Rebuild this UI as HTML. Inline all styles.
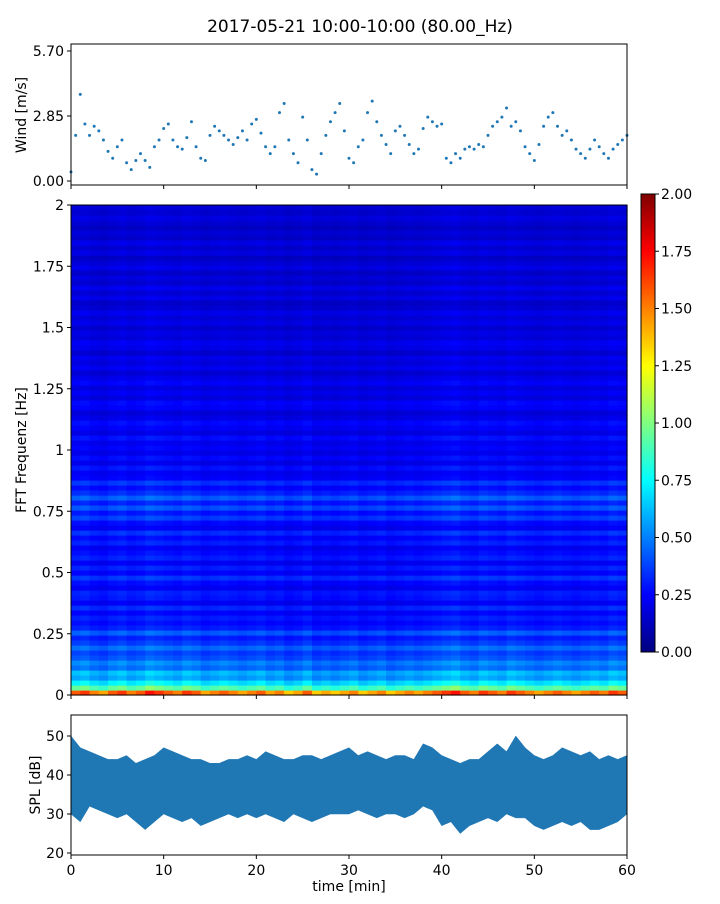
<!DOCTYPE html>
<html><head><meta charset="utf-8"><style>
body{margin:0;background:#fff;font-family:"DejaVu Sans",sans-serif}
svg text{font-family:"DejaVu Sans","Liberation Sans",sans-serif;fill:#000}
</style></head><body>
<svg id="c" width="720" height="900" xmlns="http://www.w3.org/2000/svg">
<text x="360" y="32" font-size="17" text-anchor="middle">2017-05-21 10:00-10:00 (80.00_Hz)</text>
</svg>
<script>
// ---- data ----
const timeTicks=[0,10,20,30,40,50,60];
const windTicks=["0.00","2.85","5.70"];
const wind=[0.4,2.0,3.8,2.5,2.0,2.4,2.2,1.8,1.3,1.0,1.5,1.8,0.8,0.5,0.9,1.2,0.9,0.6,1.5,1.8,2.3,2.5,1.8,1.5,1.4,1.9,2.6,1.5,1.0,0.9,2.0,2.4,2.2,2.0,1.8,1.6,1.9,2.2,1.8,2.5,2.7,2.1,1.5,1.2,1.5,3.0,3.4,1.8,1.2,0.8,2.8,1.8,0.5,0.3,1.2,2.0,2.6,3.0,3.4,2.2,1.0,0.8,1.5,1.8,3.0,3.5,2.6,2.0,1.6,1.2,2.2,2.4,2.0,1.6,1.2,1.4,2.3,2.8,2.6,2.4,2.5,1.0,0.8,1.2,1.0,1.4,1.5,1.4,1.6,1.5,2.0,2.4,2.6,2.8,3.2,2.4,2.6,2.2,1.5,1.2,0.9,1.6,2.4,2.8,3.0,2.4,2.0,2.2,1.8,1.4,1.2,1.0,1.4,1.8,1.5,1.2,1.0,1.4,1.6,1.8,2.0];
const splTicks=[20,30,40,50];
const splHi=[50,47,46,45,44,44,45,43,44,45,47,46,45,44,44,43,43,44,44,45,44,46,45,44,44,45,45,44,45,46,47,45,46,45,44,45,45,44,48,47,45,44,43,44,44,46,48,46,50,47,45,44,45,47,46,45,46,44,45,44,45];
const splLo=[30,28,32,31,30,29,30,28,26,28,30,29,28,29,27,28,29,30,29,30,29,30,29,28,30,29,28,29,30,30,30,31,30,29,30,30,29,30,32,31,27,28,25,27,28,29,28,30,29,29,27,26,27,28,27,28,26,26,27,28,30];
const freqTicks=["0","0.25","0.5","0.75","1","1.25","1.5","1.75","2"];
const cbTicks=["0.00","0.25","0.50","0.75","1.00","1.25","1.50","1.75","2.00"];
const rowLevel=[1.5,0.9,0.7,0.55,0.6,0.45,0.5,0.4,0.36,0.45,0.35,0.3,0.42,0.3,0.26,0.3,0.24,0.32,0.22,0.28,0.3,0.22,0.26,0.34,0.24,0.3,0.22,0.3,0.26,0.22,0.3,0.25,0.33,0.22,0.26,0.36,0.28,0.4,0.3,0.42,0.32,0.26,0.34,0.24,0.22,0.28,0.2,0.26,0.2,0.24,0.21,0.27,0.19,0.23,0.26,0.2,0.17,0.23,0.25,0.18,0.22,0.18,0.24,0.2,0.16,0.22,0.18,0.21,0.15,0.2,0.22,0.17,0.19,0.15,0.2,0.17,0.21,0.16,0.14,0.2,0.16,0.21,0.15,0.18,0.14,0.2,0.17,0.13,0.19,0.15,0.2,0.14,0.17,0.13,0.16,0.19,0.15,0.17];
const colLevel=[1.05,1.1,1.0,0.95,1.05,1.1,1.0,1.05,1.15,1.1,1.05,1.0,1.1,1.05,0.95,1.0,1.05,1.0,0.95,1.0,1.05,0.95,1.0,0.9,0.95,1.05,0.9,0.95,0.9,0.95,1.0,0.9,0.95,1.0,0.9,0.95,1.0,0.95,1.0,1.05,1.1,1.15,1.05,1.0,1.1,1.05,1.0,1.1,1.05,1.0,0.95,1.0,1.05,1.0,0.95,1.0,1.05,1.0,1.1,1.05];
// ---- helpers ----
const S=document.getElementById('c'),NS='http://www.w3.org/2000/svg';
function mk(t,a,p){const e=document.createElementNS(NS,t);for(const k in a)e.setAttribute(k,a[k]);(p||S).appendChild(e);return e;}
const X0=71,X1=627;
const xs=t=>X0+(t/60)*(X1-X0);
function jet(v){v=Math.max(0,Math.min(1,v));const f=(x)=>Math.max(0,Math.min(1,x));
 const r=f(1.5-Math.abs(4*v-3)),g=f(1.5-Math.abs(4*v-2)),b=f(1.5-Math.abs(4*v-1));
 return `rgb(${Math.round(r*255)},${Math.round(g*255)},${Math.round(b*255)})`;}
function frame(y0,y1,name){const r=mk('rect',{x:X0,y:y0,width:X1-X0,height:y1-y0,fill:'none',stroke:'#000','stroke-width':1});}
function xt(y,labels){timeTicks.forEach(t=>{mk('line',{x1:xs(t),x2:xs(t),y1:y,y2:y+4,stroke:'#000'});if(labels){const e=mk('text',{x:xs(t),y:y+20,'font-size':14,'text-anchor':'middle'});e.textContent=t;}});}
function yt(y,lab,x){mk('line',{x1:x-4,x2:x,y1:y,y2:y,stroke:'#000'});const e=mk('text',{x:x-7,y:y+5,'font-size':14,'text-anchor':'end'});e.textContent=lab;}
function ylab(x,y,t,n){const e=mk('text',{x:x,y:y,'font-size':14,'text-anchor':'middle',transform:`rotate(-90 ${x} ${y})`});e.textContent=t;}
// ---- wind ----
const WY0=181,WY1=51,wy=v=>WY0+(v/5.70)*(WY1-WY0);
const wg=mk('g',{});
const dt=60/(wind.length-1);
wind.forEach((v,i)=>{const c=mk('circle',{cx:xs(i*dt),cy:wy(v),r:1.5,fill:'#1f77b4'},wg);});
frame(44,185,'wind-axes');xt(185,false);
windTicks.forEach(l=>yt(wy(parseFloat(l)),l,X0));
ylab(26,115,'Wind [m/s]','wind-y-title');
// ---- spectrogram ----
const SY0=695,SY1=205,sy=f=>SY0+(f/2)*(SY1-SY0);
const sg=mk('g',{});
const dr=2/rowLevel.length,dc=60/colLevel.length;
rowLevel.forEach((rv,r)=>colLevel.forEach((cv,c)=>{const v=rv*cv/2;
 const e=mk('rect',{x:xs(c*dc),y:sy((r+1)*dr),width:xs(dc)-X0+0.6,height:sy(0)-sy(dr)+0.6,fill:jet(v)},sg);
 }));
frame(205,695,'spectrogram-axes');xt(695,false);
freqTicks.forEach(l=>yt(sy(parseFloat(l)),l,X0));
ylab(26,450,'FFT Frequenz [Hz]','frequency-y-title');
// ---- colorbar ----
const CB0=652,CB1=194,cy=v=>CB0+(v/2)*(CB1-CB0);
const df=mk('defs',{});const gr=mk('linearGradient',{id:'jg',x1:0,y1:1,x2:0,y2:0},df);
for(let i=0;i<=16;i++)mk('stop',{offset:i/16,'stop-color':jet(i/16)},gr);
const cb=mk('rect',{x:641,y:194,width:14,height:458,fill:'url(#jg)',stroke:'#000','stroke-width':1});

cbTicks.forEach(l=>{const y=cy(parseFloat(l));mk('line',{x1:655,x2:659,y1:y,y2:y,stroke:'#000'});const e=mk('text',{x:661,y:y+5,'font-size':14});e.textContent=l;});
// ---- SPL ----
const PY0=853,PY1=736,py=v=>PY0+((v-20)/30)*(PY1-PY0);
const ds=60/(splHi.length-1);
const pts=splHi.map((v,i)=>xs(i*ds)+','+py(v)).concat(splLo.map((v,i)=>[i,v]).reverse().map(([i,v])=>xs(i*ds)+','+py(v)));
const sp=mk('polygon',{points:pts.join(' '),fill:'#1f77b4',stroke:'#1f77b4','stroke-width':0.5});

frame(715,855,'spl-axes');xt(855,true);
splTicks.forEach(v=>yt(py(v),String(v),X0));
ylab(40,785,'SPL [dB]','spl-y-title');
const xl=mk('text',{x:349,y:891,'font-size':14,'text-anchor':'middle'});xl.textContent='time [min]';

</script>
</body></html>
